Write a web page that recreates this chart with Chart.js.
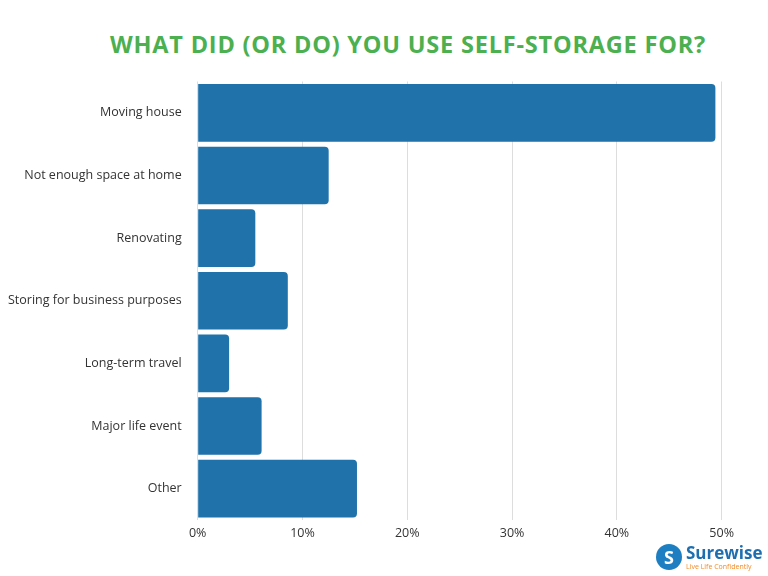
<!DOCTYPE html>
<html>
<head>
<meta charset="utf-8">
<script src="https://cdn.jsdelivr.net/npm/chart.js@4"></script>
<style>
  body { margin: 0; background: #fff; font-family: Roboto, sans-serif; }
  #wrap { position: relative; width: 768px; height: 576px; }
  h1 { position: absolute; top: 28px; left: 24px; width: 768px; margin: 0; text-align: center;
       font: 700 23.5px "Open Sans", sans-serif; color: #4caf50; letter-spacing: 0.8px; }
  #box { position: absolute; left: 0; top: 66px; width: 740px; height: 481px; }
  #logo { position: absolute; left: 656px; top: 544px; }
  #logo .s { display: inline-block; width: 26px; height: 26px; border-radius: 13px; background: #1d7fc2;
             color: #fff; font: 700 18px "Open Sans"; text-align: center; line-height: 26px; vertical-align: top; }
  #logo .t { display: inline-block; margin-left: 4px; vertical-align: top; }
  #logo .n { font: 700 17px "Open Sans"; color: #1d6fb0; line-height: 18px; }
  #logo .c { font: 7px "Open Sans"; color: #f28c28; }
</style>
</head>
<body>
<div id="wrap">
  <h1>WHAT DID (OR DO) YOU USE SELF-STORAGE FOR?</h1>
  <div id="box"><canvas id="c"></canvas></div>
  <div id="logo"><span class="s">S</span><span class="t"><div class="n">Surewise</div><div class="c">Live Life Confidently</div></span></div>
</div>
<script>
// Respostas (percentual)
const categorias = ['Moving house', 'Not enough space at home', 'Renovating',
  'Storing for business purposes', 'Long-term travel', 'Major life event', 'Other'];
const valores = [49.4, 12.5, 5.5, 8.6, 3.0, 6.1, 15.2];
const ticksX = [0, 10, 20, 30, 40, 50];

new Chart(document.getElementById('c'), {
  type: 'bar',
  data: {
    labels: categorias,
    datasets: [{
      data: valores,
      backgroundColor: '#1f72aa',
      borderRadius: { topRight: 4, bottomRight: 4 },
      borderSkipped: 'start',
      barPercentage: 0.92,
      categoryPercentage: 1
    }]
  },
  options: {
    indexAxis: 'y',
    responsive: true,
    maintainAspectRatio: false,
    animation: false,
    layout: { padding: { top: 14, right: 10 } },
    plugins: { legend: { display: false }, tooltip: { enabled: false } },
    scales: {
      x: {
        min: 0, max: 50,
        afterBuildTicks: (a) => { a.ticks = ticksX.map(v => ({ value: v })); },
        grid: { color: '#dddddd', drawTicks: false },
        border: { display: false },
        ticks: { callback: (v) => v + '%', color: '#333', font: { family: 'Open Sans', size: 12.5 }, padding: 6 }
      },
      y: {
        grid: { display: false },
        border: { display: false },
        ticks: { color: '#333', font: { family: 'Open Sans', size: 12.5 }, padding: 8 }
      }
    }
  }
});
</script>
</body>
</html>
